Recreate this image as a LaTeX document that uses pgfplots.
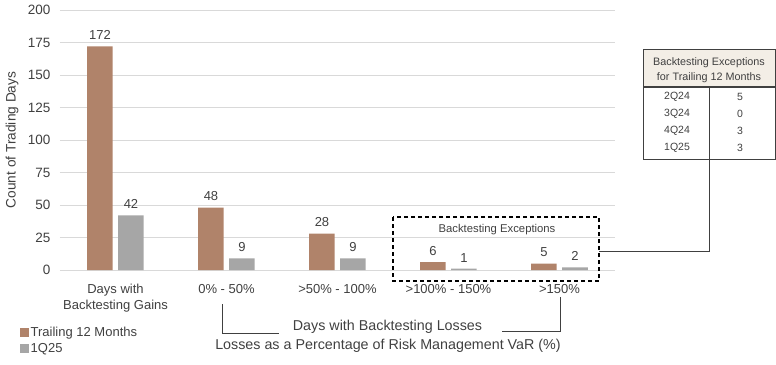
\documentclass[border=0pt]{standalone}
\usepackage{fontspec}
\setmainfont{Liberation Sans}
\usepackage{pgfplots}
\pgfplotsset{compat=1.18}
\definecolor{brownA}{HTML}{B0836A}
\definecolor{greyA}{HTML}{A6A6A6}
\definecolor{txt}{HTML}{404040}
\definecolor{gridc}{HTML}{D9D9D9}
\definecolor{hdr}{HTML}{F3EEE6}
\definecolor{linec}{HTML}{404040}
\begin{document}
\begin{tikzpicture}
\begin{axis}[
  at={(60pt,-270pt)}, anchor=south west,
  scale only axis, width=555pt, height=260pt,
  xmin=-0.5, xmax=4.5, ymin=0, ymax=200,
  ytick={0,25,...,200},
  xtick={0,1,2,3,4},
  xticklabels={{Days with\\Backtesting Gains},{0\% - 50\%},{>50\% - 100\%},{>100\% - 150\%},{>150\%}},
  xticklabel style={align=center, font=\fontsize{13}{16}\selectfont, text=txt, yshift=-11pt},
  yticklabel style={font=\fontsize{13.5}{15}\selectfont, text=txt, xshift=-6pt},
  /pgf/number format/assume math mode=true,
  ymajorgrids, grid style={draw=gridc, line width=0.8pt},
  axis line style={draw=none}, major tick length=0pt,
  ylabel={Count of Trading Days},
  ylabel style={font=\fontsize{13.7}{15}\selectfont, text=txt, at={(axis description cs:-0.0865,0.5)}, anchor=center},
  ybar, bar width=25.5pt,
  nodes near coords,
  every node near coord/.append style={font=\fontsize{13}{14}\selectfont, text=txt, yshift=3pt},
  legend style={at={(-0.073,-0.212)}, anchor=north west, draw=none, fill=none,
    font=\fontsize{13}{15}\selectfont, text=txt, inner sep=0pt, row sep=1pt},
  legend cell align=left,
  legend image code/.code={\fill[#1] (0pt,-4pt) rectangle (9pt,4.5pt);},
]
\addplot[fill=brownA, draw=none, bar shift=-15.5pt] coordinates {(0,172) (1,48) (2,28) (3,6) (4,5)};
\addplot[fill=greyA, draw=none, bar shift=15.5pt] coordinates {(0,42) (1,9) (2,9) (3,1) (4,2)};
\legend{Trailing 12 Months, 1Q25}
\end{axis}
\begin{scope}[x=1pt,y=-1pt]
\useasboundingbox (0,0) rectangle (776,364);
% dashed box
\draw[black, line width=1.5pt, dash pattern=on 4pt off 3pt] (393,217) rectangle (599,281);
\node[font=\fontsize{11.3}{12}\selectfont, text=txt] at (497,230) {Backtesting Exceptions};
% connector
\draw[linec, line width=0.8pt] (599,251) -- (709,251) -- (709,159);
% table
\fill[hdr] (643,49) rectangle (775,87);
\draw[linec, line width=0.8pt] (643,49) rectangle (775,159);
\draw[linec, line width=1.2pt] (643,87) -- (775,87);
\draw[linec, line width=0.8pt] (709,87) -- (709,159);
\node[font=\fontsize{10.8}{12}\selectfont, text=txt] at (709,63) {Backtesting Exceptions};
\node[font=\fontsize{10.8}{12}\selectfont, text=txt] at (709,78) {for Trailing 12 Months};
\foreach \q/\v [count=\i] in {2Q24/5,3Q24/0,4Q24/3,1Q25/3}{
  \node[font=\fontsize{10.5}{12}\selectfont, text=txt] at (677,80+17*\i) {\q};
  \node[font=\fontsize{10.5}{12}\selectfont, text=txt] at (740,80+17*\i) {\v};
}
% bottom brackets
\draw[linec, line width=0.8pt] (222,304) -- (222,333) -- (279,333);
\draw[linec, line width=0.8pt] (502,331) -- (560,331) -- (560,297);
\node[font=\fontsize{14.3}{16}\selectfont, text=txt] at (387.5,327) {Days with Backtesting Losses};
\node[font=\fontsize{14.3}{16}\selectfont, text=txt] at (388,346) {Losses as a Percentage of Risk Management VaR (\%)};
\end{scope}
\end{tikzpicture}
\end{document}
